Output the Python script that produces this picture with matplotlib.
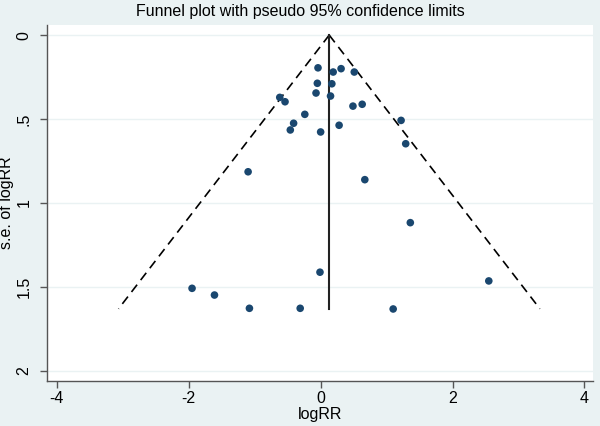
import numpy as np
import matplotlib
matplotlib.use("Agg")
import matplotlib.pyplot as plt

plt.rcParams["font.family"] = ["Liberation Sans", "DejaVu Sans"]

# study estimates
log_rr = [-0.04, 0.19, 0.31, 0.51, -0.05, 0.17, -0.07, 0.15, -0.62, -0.54,
          0.49, 0.63, -0.24, -0.41, -0.46, 0.00, 0.28, 1.22, 1.29, -1.10,
          0.67, 1.36, -0.01, -1.95, -1.61, -1.08, -0.31, 1.10, 2.55]
se_log_rr = [0.195, 0.22, 0.20, 0.22, 0.287, 0.29, 0.345, 0.363, 0.371, 0.397,
             0.423, 0.412, 0.472, 0.525, 0.565, 0.577, 0.537, 0.508, 0.647, 0.814,
             0.861, 1.117, 1.412, 1.508, 1.548, 1.627, 1.627, 1.631, 1.464]
pooled = 0.13
se_max = 1.63

xticks = [-4, -2, 0, 2, 4]
yticks = [0, 0.5, 1, 1.5, 2]
ytick_labels = ["0", ".5", "1", "1.5", "2"]

bg = "#EAF2F3"
navy = "#1A476F"

fig = plt.figure(figsize=(6, 4.26), dpi=100, facecolor=bg)
ax = fig.add_axes([0.0783, 0.1056, 0.91, 0.8357])
ax.set_facecolor("white")

for y in yticks:
    ax.axhline(y, color=bg, lw=1.0, zorder=0)

# pseudo 95% limits
se_line = np.array([0, se_max])
ax.plot(pooled - 1.96 * se_line, se_line, color="black", lw=1.2, ls=(0, (5.5, 3.5)))
ax.plot(pooled + 1.96 * se_line, se_line, color="black", lw=1.2, ls=(0, (5.5, 3.5)))
ax.plot([pooled, pooled], [0, se_max], color="#222222", lw=1.5)

ax.scatter(log_rr, se_log_rr, s=30, color=navy, edgecolors="none", zorder=3)

ax.set_xlim(-4.15, 4.13)
ax.set_ylim(2.06, -0.06)
ax.set_xticks(xticks)
ax.set_xticklabels([str(t) for t in xticks])
ax.set_yticks(yticks)
ax.set_yticklabels(ytick_labels, rotation=90, va="center")

for side in ["top", "right"]:
    ax.spines[side].set_visible(False)
for side in ["left", "bottom"]:
    ax.spines[side].set_color("#555555")
    ax.spines[side].set_linewidth(1.0)
ax.tick_params(colors="#555555", labelcolor="black", labelsize=11.5, length=5, width=1)
ax.tick_params(axis="y", pad=6)
ax.tick_params(axis="x", pad=2.5)

ax.set_xlabel("logRR", fontsize=11.5)
ax.set_ylabel("s.e. of logRR", fontsize=11.5)
ax.xaxis.set_label_coords(0.5, -0.074)
ax.yaxis.set_label_coords(-0.061, 0.5)
fig.text(0.5, 0.972, "Funnel plot with pseudo 95% confidence limits",
         ha="center", va="center", fontsize=11.5)

fig.savefig("out.png", dpi=100, facecolor=bg)
